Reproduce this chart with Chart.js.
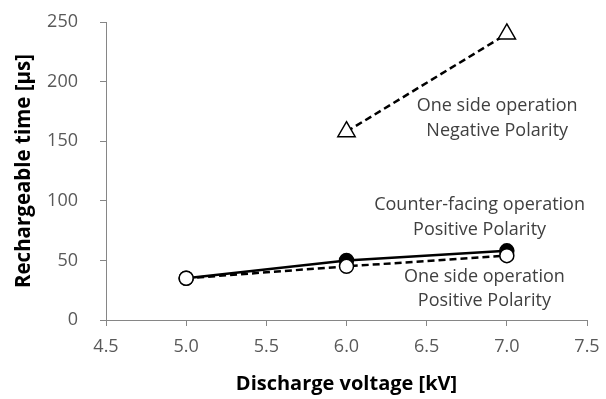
<!DOCTYPE html>
<html>
<head>
<meta charset="utf-8">
<script src="https://cdn.jsdelivr.net/npm/chart.js@4.4.0/dist/chart.umd.min.js"></script>
<style>
html,body{margin:0;padding:0;background:#fff;}
#wrap{width:606px;height:399px;position:relative;}
</style>
</head>
<body>
<div id="wrap"><canvas id="c" width="606" height="399"></canvas></div>
<script>
// ---- data ----
const voltagePos = [5.0, 6.0, 7.0];
const counterFacingPos = [35, 50, 58];
const oneSidePos = [35, 45, 54];
const voltageNeg = [6.0, 7.0];
const oneSideNeg = [158, 240];
const xTicks = [4.5, 5.0, 5.5, 6.0, 6.5, 7.0, 7.5];
const yTicks = [0, 50, 100, 150, 200, 250];
const annotations = [
  {lines: ['One side operation', 'Negative Polarity'], x: 6.94, y: [180, 159]},
  {lines: ['Counter-facing operation', 'Positive Polarity'], x: 6.83, y: [97, 76]},
  {lines: ['One side operation', 'Positive Polarity'], x: 6.86, y: [36, 16]}
];

const pts = (xs, ys) => xs.map((x, i) => ({x: x, y: ys[i]}));
const FONT = "'Open Sans', 'Liberation Sans', sans-serif";

const annotationPlugin = {
  id: 'annot',
  afterDatasetsDraw(chart) {
    const ctx = chart.ctx;
    const xs = chart.scales.x, ys = chart.scales.y;
    ctx.save();
    ctx.font = "18px " + FONT;
    ctx.fillStyle = '#404040';
    ctx.textAlign = 'center';
    ctx.textBaseline = 'middle';
    annotations.forEach(a => {
      a.lines.forEach((t, i) => {
        ctx.fillText(t, xs.getPixelForValue(a.x), ys.getPixelForValue(a.y[i]));
      });
    });
    ctx.restore();
  }
};

function build() {
  new Chart(document.getElementById('c'), {
    type: 'line',
    data: {
      datasets: [
        {
          label: 'Counter-facing operation Positive Polarity',
          data: pts(voltagePos, counterFacingPos),
          borderColor: '#000', backgroundColor: '#000', borderWidth: 2.5,
          pointStyle: 'circle', pointRadius: 7, pointBackgroundColor: '#000',
          pointBorderColor: '#000', pointBorderWidth: 1.5, order: 3
        },
        {
          label: 'One side operation Positive Polarity',
          data: pts(voltagePos, oneSidePos),
          borderColor: '#000', backgroundColor: '#fff', borderWidth: 2.5, borderDash: [7, 4],
          pointStyle: 'circle', pointRadius: 7, pointBackgroundColor: '#fff',
          pointBorderColor: '#000', pointBorderWidth: 1.5, order: 2
        },
        {
          label: 'One side operation Negative Polarity',
          data: pts(voltageNeg, oneSideNeg),
          borderColor: '#000', backgroundColor: '#fff', borderWidth: 2.5, borderDash: [7, 4],
          pointStyle: 'triangle', pointRadius: 10, pointBackgroundColor: '#fff',
          pointBorderColor: '#000', pointBorderWidth: 1.5, order: 1
        }
      ]
    },
    options: {
      responsive: false,
      animation: false,
      events: [],
      layout: {padding: {left: 12, right: 19, top: 22, bottom: 3}},
      plugins: {legend: {display: false}, tooltip: {enabled: false}},
      scales: {
        x: {
          type: 'linear', min: 4.5, max: 7.5,
          afterBuildTicks: s => { s.ticks = xTicks.map(v => ({value: v})); },
          afterFit: s => { s.height = 76; s.paddingLeft = 0; s.paddingRight = 0; },
          ticks: {callback: v => Number(v).toFixed(1), color: '#595959', font: {family: FONT, size: 18}, padding: 10, maxRotation: 0, autoSkip: false},
          grid: {drawOnChartArea: false, drawTicks: true, tickLength: 6, color: '#868686'},
          border: {color: '#868686', width: 1},
          title: {display: true, text: 'Discharge voltage [kV]', color: '#000', font: {family: FONT, size: 20, weight: 'bold'}, padding: {top: 5, bottom: 0}}
        },
        y: {
          type: 'linear', min: 0, max: 250,
          afterBuildTicks: s => { s.ticks = yTicks.map(v => ({value: v})); },
          afterFit: s => { s.width = 94; s.paddingTop = 0; s.paddingBottom = 0; },
          ticks: {color: '#595959', font: {family: FONT, size: 18}, padding: 22},
          grid: {drawOnChartArea: false, drawTicks: true, tickLength: 6, color: '#868686'},
          border: {color: '#868686', width: 1},
          title: {display: true, text: 'Rechargeable time [µs]', color: '#000', font: {family: FONT, size: 20.5, weight: 'bold'}, padding: {top: 0, bottom: 6}}
        }
      }
    },
    plugins: [annotationPlugin]
  });
}

const loads = [
  document.fonts.load("18px 'Open Sans'"),
  document.fonts.load("bold 20px 'Open Sans'")
];
Promise.all(loads).then(build, build);
</script>
</body>
</html>
